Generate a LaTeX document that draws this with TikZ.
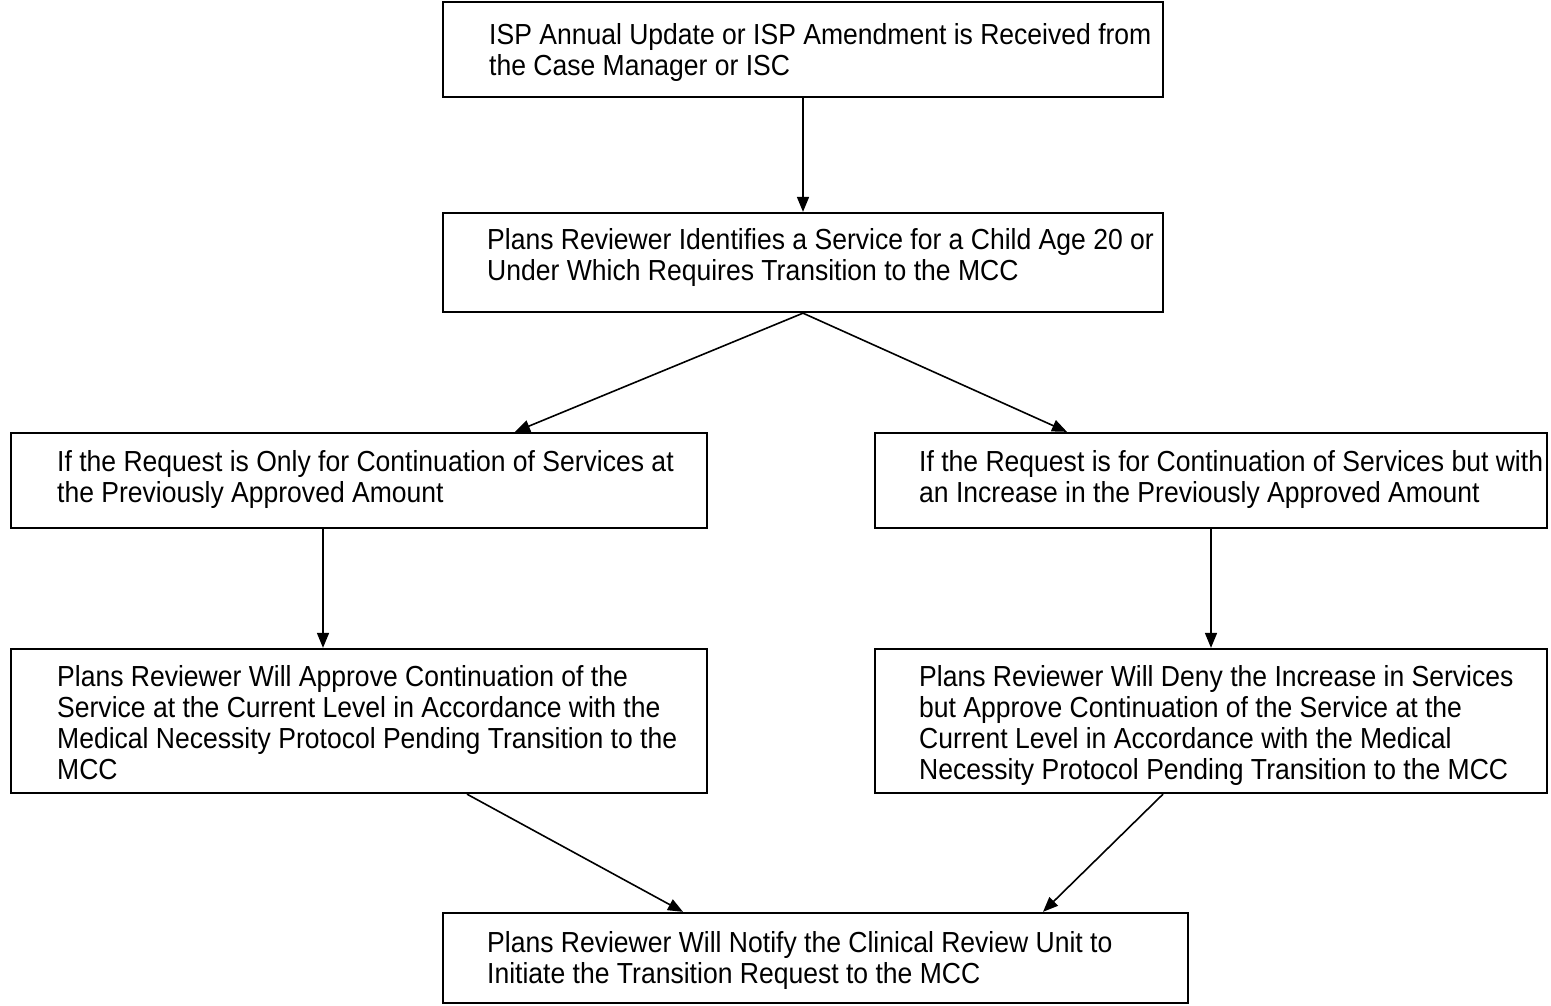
\documentclass[tikz,border=0pt]{standalone}
\usepackage{fontspec}
\setmainfont{Liberation Sans}[FakeStretch=0.915]
\usetikzlibrary{arrows.meta,calc}
\tikzset{
  box/.style={draw=black, line width=2.3pt, rectangle, inner sep=0pt, fill=white},
  txt/.style={anchor=north west, inner sep=0pt, align=left, font=\fontsize{29}{31}\selectfont},
  conn/.style={line width=1.6pt, -{Triangle[length=15pt,width=12pt]}}
}
\begin{document}
\begin{tikzpicture}[x=1pt,y=-1pt]
\useasboundingbox (0,0) rectangle (1551,1005);
\fill[white] (0,0) rectangle (1551,1005);
\node[box, minimum width=720pt, minimum height=95pt] (b1) at (803,49.5) {};
\node[box, minimum width=720pt, minimum height=99pt] (b2) at (803,262.5) {};
\node[box, minimum width=696pt, minimum height=95pt] (b3) at (359,480.5) {};
\node[box, minimum width=672pt, minimum height=95pt] (b4) at (1211,480.5) {};
\node[box, minimum width=696pt, minimum height=144pt] (b5) at (359,721) {};
\node[box, minimum width=672pt, minimum height=144pt] (b6) at (1211,721) {};
\node[box, minimum width=745pt, minimum height=90pt] (b7) at (815.5,958) {};

\node[txt] (t1) at (489,22.6) {\strut ISP Annual Update or ISP Amendment is Received from\\the Case Manager or ISC};
\node[txt] (t2) at (487,227.3) {\strut Plans Reviewer Identifies a Service for a Child Age 20 or\\Under Which Requires Transition to the MCC};
\node[txt] (t3) at (57,449.3) {\strut If the Request is Only for Continuation of Services at\\the Previously Approved Amount};
\node[txt] (t4) at (919,449.3) {\strut If the Request is for Continuation of Services but with\\an Increase in the Previously Approved Amount};
\node[txt] (t5) at (57,664.3) {\strut Plans Reviewer Will Approve Continuation of the\\Service at the Current Level in Accordance with the\\Medical Necessity Protocol Pending Transition to the\\MCC};
\node[txt] (t6) at (919,664.3) {\strut Plans Reviewer Will Deny the Increase in Services\\but Approve Continuation of the Service at the\\Current Level in Accordance with the Medical\\Necessity Protocol Pending Transition to the MCC};
\node[txt] (t7) at (487,930.3) {\strut Plans Reviewer Will Notify the Clinical Review Unit to\\Initiate the Transition Request to the MCC};

\draw[conn] (b1.south) -- (b2.north);
\draw[conn] (b2.south) -- (515,0 |- b3.north);
\draw[conn] (b2.south) -- (1067,0 |- b4.north);
\draw[conn] (323,0 |- b3.south) -- (323,0 |- b5.north);
\draw[conn] (b4.south) -- (b6.north);
\draw[conn] (467,0 |- b5.south) -- (683,0 |- b7.north);
\draw[conn] (1163,0 |- b6.south) -- (1043,0 |- b7.north);
\end{tikzpicture}
\end{document}
